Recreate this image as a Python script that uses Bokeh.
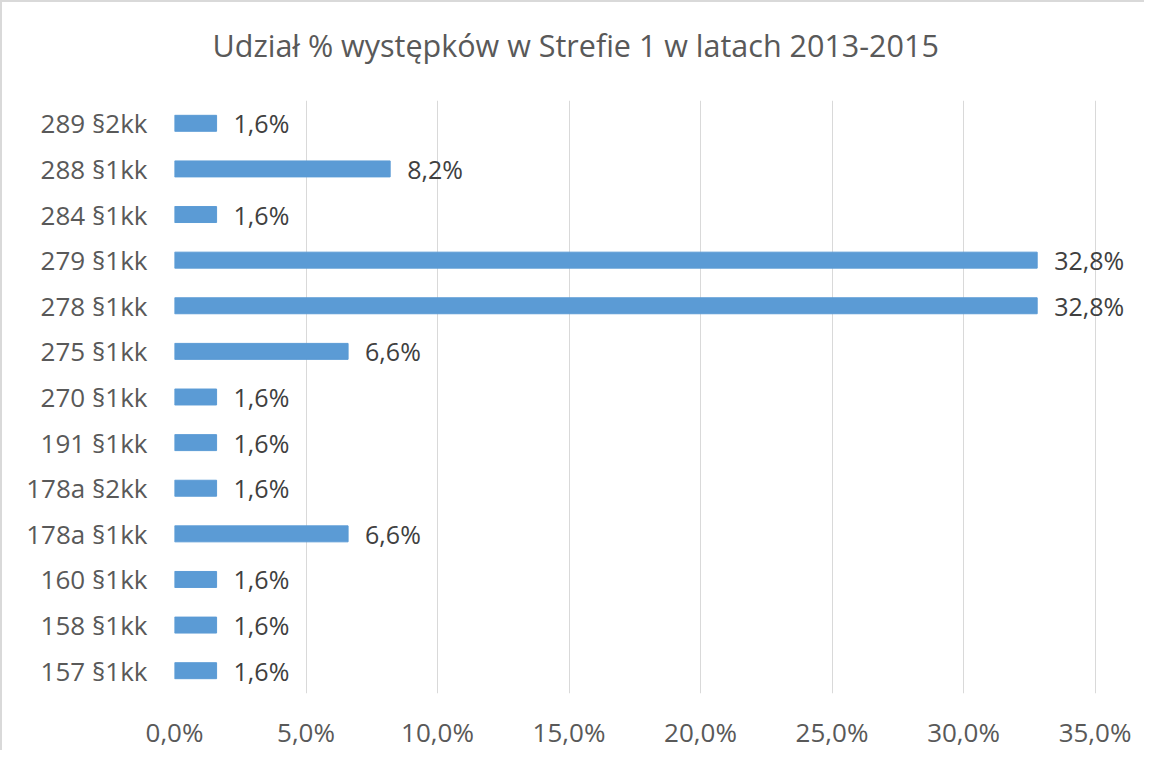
from bokeh.plotting import figure
from bokeh.models import ColumnDataSource, FactorRange, Range1d, CustomJSTickFormatter, Title, FixedTicker, LabelSet
from bokeh.core.properties import value
from bokeh.embed import file_html
from bokeh.resources import INLINE

categories = ["157 §1kk", "158 §1kk", "160 §1kk", "178a §1kk", "178a §2kk", "191 §1kk",
              "270 §1kk", "275 §1kk", "278 §1kk", "279 §1kk", "284 §1kk", "288 §1kk", "289 §2kk"]
values = [1.6, 1.6, 1.6, 6.6, 1.6, 1.6, 1.6, 6.6, 32.8, 32.8, 1.6, 8.2, 1.6]
labels = [("%.1f%%" % v).replace(".", ",") for v in values]
x_ticks = [0, 5, 10, 15, 20, 25, 30, 35]
title_text = "Udział % występków w Strefie 1 w latach 2013-2015"

FONT = "Open Sans"
src = ColumnDataSource(dict(cat=categories, val=values, lab=labels))

p = figure(width=1144, height=750, output_backend="svg", toolbar_location=None,
           y_range=FactorRange(*categories, range_padding=0), x_range=Range1d(0, 36.5),
           min_border_left=172, min_border_right=12, min_border_top=98, min_border_bottom=58)
p.hbar(y="cat", right="val", left=0, height=0.35, source=src, color="#5b9bd5")
p.add_layout(LabelSet(x="val", y="cat", text="lab", source=src, x_offset=17, text_baseline="middle",
                      text_font=value(FONT), text_font_size=value("25px"), text_color=value("#404040")))

# spacer between the frame and the title
p.add_layout(Title(text=" ", text_font_size="1px", standoff=30), "above")
p.title = Title(text=title_text, align="left", vertical_align="top",
                text_font=FONT, text_font_size="30.5px", text_font_style="normal",
                text_color="#595959", offset=38, standoff=0)

p.xaxis.ticker = FixedTicker(ticks=x_ticks)
p.xaxis.formatter = CustomJSTickFormatter(code="return tick.toFixed(1).replace('.', ',') + '%';")
for ax in (p.xaxis[0], p.yaxis[0]):
    ax.axis_line_color = None
    ax.major_tick_line_color = None
    ax.minor_tick_line_color = None
    ax.major_tick_out = 0
    ax.major_tick_in = 0
    ax.major_label_text_font = FONT
    ax.major_label_text_font_size = "26px"
    ax.major_label_text_color = "#595959"
p.xaxis.major_label_standoff = 20
p.yaxis.major_label_standoff = 27
p.ygrid.grid_line_color = None
p.xgrid.grid_line_color = "#d9d9d9"
p.xgrid.grid_line_width = 1
p.outline_line_color = None
p.styles = {"border-left": "2px solid #d9d9d9", "border-top": "2px solid #d9d9d9"}

open("out.html", "w").write(file_html(p, INLINE))
